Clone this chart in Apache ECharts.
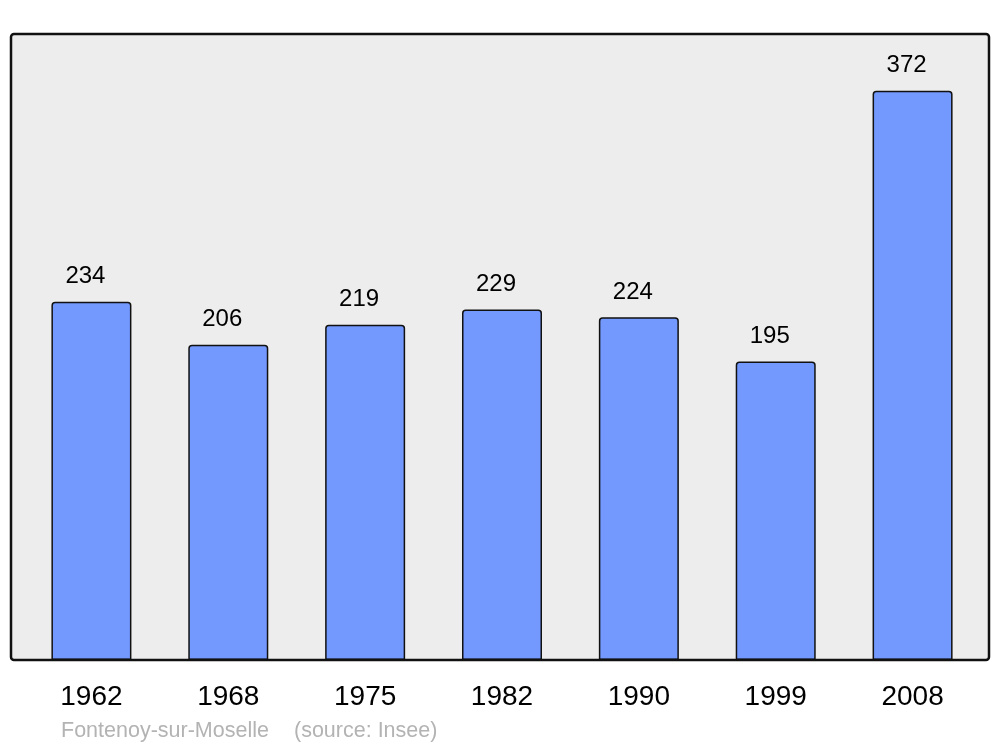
<!DOCTYPE html>
<html><head><meta charset="utf-8">
<script src="https://cdn.jsdelivr.net/npm/echarts@6/dist/echarts.min.js"></script>
<style>html,body{margin:0;padding:0;background:#fff}#c{width:1000px;height:747px}</style>
</head><body><div id="c"></div>
<script>
const years = ['1962','1968','1975','1982','1990','1999','2008'];
const population = [234, 206, 219, 229, 224, 195, 372];
const footerName = 'Fontenoy-sur-Moselle';
const footerSource = '(source: Insee)';

const chart = echarts.init(document.getElementById('c'), null, {renderer:'canvas'});
chart.setOption({
  backgroundColor: '#ffffff',
  animation: false,
  grid: {left: 23, right: 19, top: 34, bottom: 87, containLabel: false},
  xAxis: {
    type: 'category', data: years,
    axisLine: {show: false}, axisTick: {show: false},
    axisLabel: {color: '#000', fontSize: 28, fontFamily: 'Liberation Sans, Arial, sans-serif', margin: 23}
  },
  yAxis: {
    type: 'value', min: 0, max: 409,
    show: false, splitLine: {show: false}
  },
  series: [{
    type: 'bar', data: population, barWidth: 80,
    itemStyle: {color: '#7399ff', borderColor: '#111', borderWidth: 1.5, borderRadius: [3,3,0,0]},
    label: {show: true, position: 'top', distance: 13, offset: [-6, 0], color: '#000', fontSize: 24,
      fontFamily: 'Liberation Sans, Arial, sans-serif'}
  }],
  graphic: [
    {type: 'rect', z: -10, shape: {x: 11, y: 34, width: 978, height: 626, r: 3},
      style: {fill: '#ededed', stroke: null}},
    {type: 'rect', z: 100, shape: {x: 11, y: 34, width: 978, height: 626, r: 3},
      style: {fill: null, stroke: '#111', lineWidth: 2.5}},
    {type: 'text', z: 100, left: 61, top: 720,
      style: {text: footerName, fill: '#b3b3b3', fontSize: 21.5, fontFamily: 'Liberation Sans, Arial, sans-serif'}},
    {type: 'text', z: 100, left: 294, top: 720,
      style: {text: footerSource, fill: '#b3b3b3', fontSize: 21.5, fontFamily: 'Liberation Sans, Arial, sans-serif'}}
  ]
});
</script></body></html>
